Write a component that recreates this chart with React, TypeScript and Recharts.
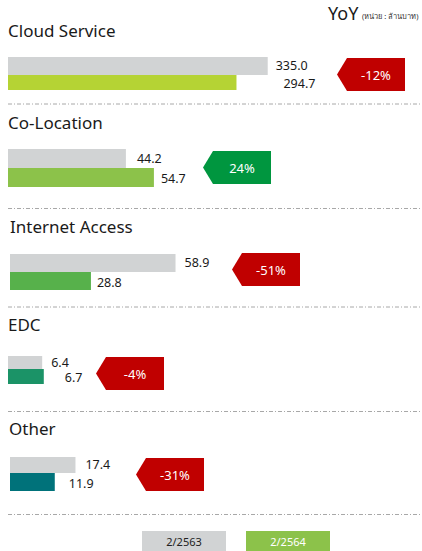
import React from 'react';
import { BarChart, Bar, XAxis, YAxis, LabelList } from 'recharts';

// ---- data ----
const categories = ['Cloud Service', 'Co-Location', 'Internet Access', 'EDC', 'Other'];
const seriesNames = ['2/2563', '2/2564'];
const prevValues = [335.0, 44.2, 58.9, 6.4, 17.4];
const currValues = [294.7, 54.7, 28.8, 6.7, 11.9];
const yoyLabels = ['-12%', '24%', '-51%', '-4%', '-31%'];
const yoyTitle = 'YoY';
const unitNote = '(หน่วย : ล้านบาท)';

// ---- styles / layout ----
const FONT = '"Noto Sans", "DejaVu Sans", sans-serif';
const prevColor = '#d1d3d4';
const currColors = ['#b5d334', '#8cc24a', '#57b14b', '#1b9367', '#00727a'];
const badgeColors = ['#c00000', '#00963f', '#c00000', '#c00000', '#c00000'];

const layout = [
  { titleX: 8, titleY: 37, barTop: 55, barLeft: 8, sizes: [18, 15], gap: 3, domainMax: 534, offsets: [8, 47], badgeX: 337, badgeY: 58 },
  { titleX: 8, titleY: 129, barTop: 146, barLeft: 8, sizes: [19, 19], gap: 5, domainMax: 155.2, offsets: [11, 7], badgeX: 203, badgeY: 151 },
  { titleX: 10, titleY: 233, barTop: 251, barLeft: 10, sizes: [18, 18], gap: 5, domainMax: 146.6, offsets: [9, 6], badgeX: 232, badgeY: 253 },
  { titleX: 8, titleY: 331, barTop: 353, barLeft: 8, sizes: [13, 15], gap: 6, domainMax: 77.5, offsets: [9, 21], badgeX: 96, badgeY: 357 },
  { titleX: 9, titleY: 435, barTop: 453, barLeft: 10, sizes: [16, 18], gap: 7, domainMax: 109.5, offsets: [10, 14], badgeX: 136, badgeY: 458 },
];
const separatorsY = [104, 208.5, 307, 411.5, 514.5];
const BADGE_W = 68;
const BADGE_H = 33;
const NOTCH = 10;
const PAD = 6;

function Section({ i }: { i: number }) {
  const L = layout[i];
  const total = L.sizes[0] + L.sizes[1] + L.gap;
  const h = total + PAD * 2;
  const data = [{ name: categories[i], prev: prevValues[i], curr: currValues[i] }];
  const fmt = (v: any) => Number(v).toFixed(1);
  return (
    <div style={{ position: 'absolute', left: 0, top: L.barTop - PAD, width: 422, height: h }}>
      <BarChart
        width={422}
        height={h}
        data={data}
        layout="vertical"
        barGap={L.gap}
        margin={{ top: PAD, bottom: PAD, left: L.barLeft, right: 0 }}
      >
        <XAxis type="number" hide domain={[0, L.domainMax]} />
        <YAxis type="category" dataKey="name" hide />
        <Bar dataKey="prev" name={seriesNames[0]} fill={prevColor} barSize={L.sizes[0]} isAnimationActive={false}>
          <LabelList dataKey="prev" position="right" offset={L.offsets[0]} formatter={fmt}
            fill="#1a1a1a" fontSize={12.5} fontFamily={FONT} />
        </Bar>
        <Bar dataKey="curr" name={seriesNames[1]} fill={currColors[i]} barSize={L.sizes[1]} isAnimationActive={false}>
          <LabelList dataKey="curr" position="right" offset={L.offsets[1]} formatter={fmt}
            fill="#1a1a1a" fontSize={12.5} fontFamily={FONT} dy={1.5} />
        </Bar>
      </BarChart>
    </div>
  );
}

export default function App() {
  return (
    <div style={{ position: 'absolute', left: 0, top: 0, width: 422, height: 551, background: '#fff', overflow: 'hidden' }}>
      <svg width={422} height={551} style={{ position: 'absolute', left: 0, top: 0 }}>
        <text x={328} y={20} fontFamily={FONT} fontSize={18} fill="#1a1a1a">{yoyTitle}</text>
        <text x={362} y={19} fontFamily={FONT} fontSize={7.5} fill="#333">{unitNote}</text>
        {categories.map((c, i) => (
          <text key={c} x={layout[i].titleX} y={layout[i].titleY} fontFamily={FONT} fontSize={17} fill="#1a1a1a">{c}</text>
        ))}
        {separatorsY.map((y) => (
          <line key={y} x1={8} x2={422} y1={y} y2={y} stroke="#a8a8a8" strokeWidth={1} strokeDasharray="4 2 1 2" />
        ))}
        {layout.map((L, i) => {
          const x = L.badgeX, y = L.badgeY;
          const pts = `${x},${y + BADGE_H / 2} ${x + NOTCH},${y} ${x + BADGE_W},${y} ${x + BADGE_W},${y + BADGE_H} ${x + NOTCH},${y + BADGE_H}`;
          return (
            <g key={i}>
              <polygon points={pts} fill={badgeColors[i]} />
              <text x={x + (BADGE_W + NOTCH) / 2} y={y + BADGE_H / 2} textAnchor="middle" dominantBaseline="central"
                fontFamily={FONT} fontSize={13} fill="#fff">{yoyLabels[i]}</text>
            </g>
          );
        })}
        <rect x={142} y={531} width={84} height={20} fill={prevColor} />
        <text x={184} y={541} textAnchor="middle" dominantBaseline="central" fontFamily={FONT} fontSize={11} fill="#222">{seriesNames[0]}</text>
        <rect x={246} y={531} width={84} height={20} fill={currColors[1]} />
        <text x={288} y={541} textAnchor="middle" dominantBaseline="central" fontFamily={FONT} fontSize={11} fill="#fff">{seriesNames[1]}</text>
      </svg>
      {categories.map((c, i) => <Section key={c} i={i} />)}
    </div>
  );
}
